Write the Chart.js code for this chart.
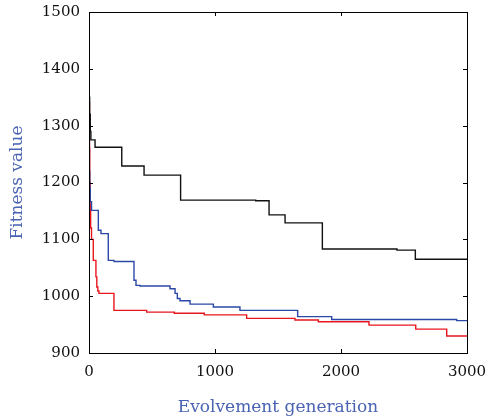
<!DOCTYPE html>
<html>
<head>
<meta charset="utf-8">
<script src="https://cdn.jsdelivr.net/npm/chart.js@4/dist/chart.umd.min.js"></script>
<style>
html,body{margin:0;padding:0;background:#fff;}
#wrap{width:488px;height:418px;position:relative;}
</style>
</head>
<body>
<div id="wrap"><canvas id="c" width="488" height="418"></canvas></div>
<script>
// Step curves: generation at which level starts, and fitness level
const blackGen = [0, 2, 5, 10, 15, 48, 260, 437, 727, 1323, 1429, 1556, 1852, 2444, 2590, 3000];
const blackFit = [1380, 1350, 1320, 1290, 1275, 1262, 1229, 1213, 1169, 1168, 1143, 1129, 1083, 1081, 1065, 1065];

const blueGen = [0, 3, 6, 10, 20, 74, 95, 153, 198, 357, 373, 405, 643, 683, 701, 722, 802, 987, 1198, 1656, 1926, 2918, 3000];
const blueFit = [1300, 1220, 1190, 1166, 1151, 1116, 1110, 1063, 1061, 1028, 1019, 1018, 1013, 1005, 996, 992, 986, 981, 975, 964, 959, 957, 957];

const redGen = [0, 2, 4, 6, 9, 13, 20, 34, 55, 62, 70, 79, 95, 198, 458, 677, 915, 1251, 1635, 1820, 2222, 2593, 2839, 3000];
const redFit = [1405, 1340, 1260, 1200, 1160, 1120, 1100, 1063, 1034, 1016, 1009, 1005, 1005, 975, 972, 970, 967, 961, 958, 955, 949, 942, 930, 930];

const xTicks = [0, 1000, 2000, 3000];
const yTicks = [900, 1000, 1100, 1200, 1300, 1400, 1500];

function pts(g, f) { return g.map((x, i) => ({x: x, y: f[i]})); }

const FONT = "'DejaVu Serif', 'Liberation Serif', serif";
const TITLE_COLOR = '#4a63b3';

const boxTicks = {
  id: 'boxTicks',
  afterDraw(chart) {
    const {ctx, chartArea: a, scales} = chart;
    ctx.save();
    ctx.strokeStyle = '#000';
    ctx.lineWidth = 1;
    ctx.strokeRect(a.left + 0.5, a.top + 0.5, a.right - a.left, a.bottom - a.top);
    const L = 4;
    ctx.beginPath();
    yTicks.forEach(v => {
      const y = Math.round(scales.y.getPixelForValue(v)) + 0.5;
      ctx.moveTo(a.left, y); ctx.lineTo(a.left + L, y);
      ctx.moveTo(a.right, y); ctx.lineTo(a.right - L, y);
    });
    xTicks.forEach(v => {
      const x = Math.round(scales.x.getPixelForValue(v)) + 0.5;
      ctx.moveTo(x, a.bottom); ctx.lineTo(x, a.bottom - L);
      ctx.moveTo(x, a.top); ctx.lineTo(x, a.top + L);
    });
    ctx.stroke();
    ctx.restore();
  }
};

const ds = (label, g, f, color) => ({
  label, data: pts(g, f), borderColor: color, backgroundColor: color,
  borderWidth: 1.4, pointRadius: 0, stepped: true, fill: false, tension: 0
});

new Chart(document.getElementById('c'), {
  type: 'line',
  data: {
    datasets: [
      ds('Black', blackGen, blackFit, '#111111'),
      ds('Blue', blueGen, blueFit, '#2b48a6'),
      ds('Red', redGen, redFit, '#e8161c')
    ]
  },
  options: {
    responsive: false,
    animation: false,
    layout: {padding: {left: 0, right: 21, top: 12, bottom: 0}},
    plugins: {legend: {display: false}, tooltip: {enabled: false}},
    scales: {
      x: {
        type: 'linear', min: 0, max: 3000,
        afterBuildTicks(s) { s.ticks = xTicks.map(v => ({value: v})); },
        afterFit(s) { s.height = 65; s.paddingLeft = 0; s.paddingRight = 0; },
        grid: {display: false, drawTicks: false},
        border: {display: true, color: '#000', width: 1},
        ticks: {color: '#111', font: {family: FONT, size: 15}, padding: 10, maxRotation: 0,
                callback: v => String(v)},
        title: {display: true, text: 'Evolvement generation', color: TITLE_COLOR,
                font: {family: FONT, size: 17}, padding: {top: 4, bottom: 0}}
      },
      y: {
        type: 'linear', min: 900, max: 1500,
        afterBuildTicks(s) { s.ticks = yTicks.map(v => ({value: v})); },
        afterFit(s) { s.width = 89; s.paddingTop = 0; s.paddingBottom = 0; },
        grid: {display: false, drawTicks: false},
        border: {display: true, color: '#000', width: 1},
        ticks: {color: '#111', font: {family: FONT, size: 15}, padding: 9,
                callback: v => String(v)},
        title: {display: true, text: 'Fitness value', color: TITLE_COLOR,
                font: {family: FONT, size: 17}, padding: {top: 7, bottom: 0}}
      }
    }
  },
  plugins: [boxTicks]
});
</script>
</body>
</html>
